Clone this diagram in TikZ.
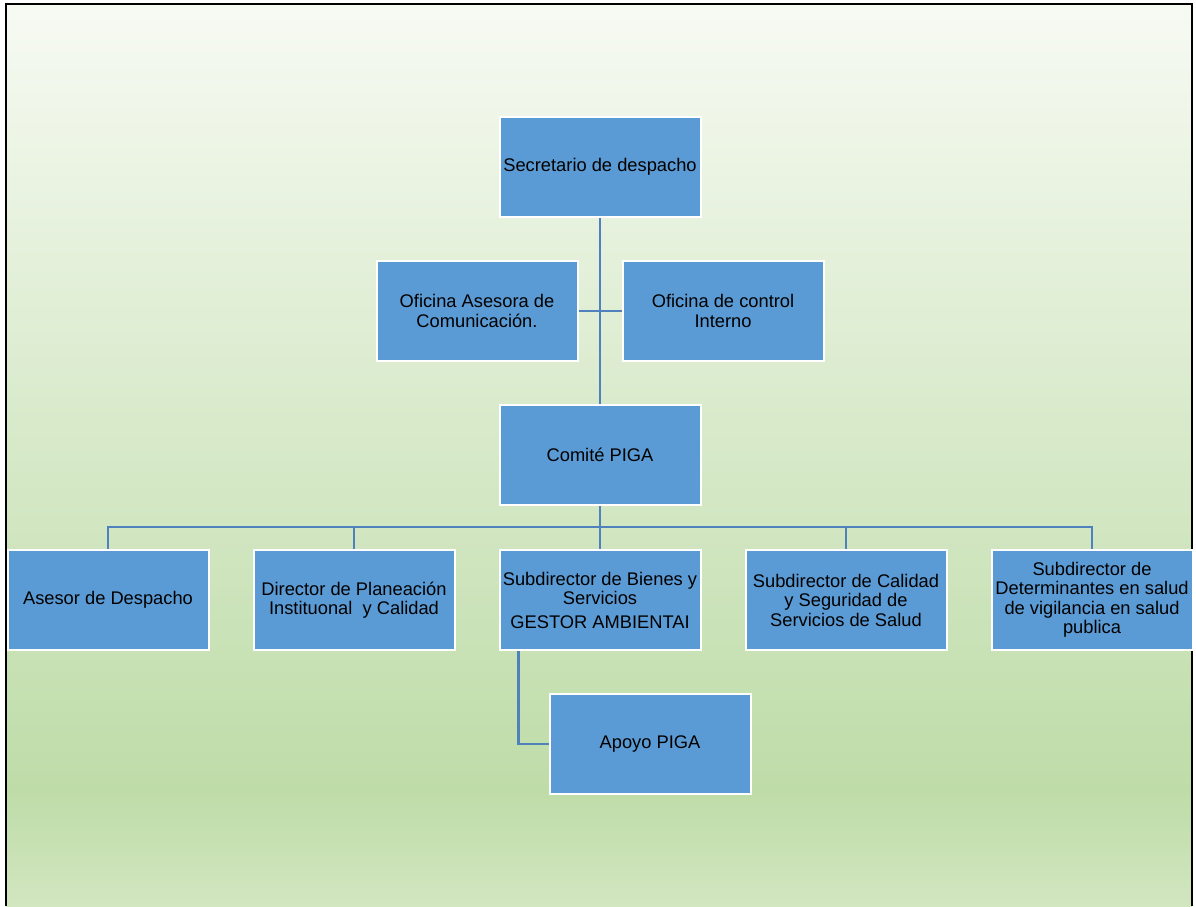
\documentclass[tikz,border=0pt]{standalone}
\usepackage{fontspec}
\setmainfont{Liberation Sans}
\usepackage{tikz}
\definecolor{boxblue}{HTML}{5B9BD5}
\definecolor{lineblue}{HTML}{4F81BD}
\definecolor{bgtop}{HTML}{F7FAF3}
\definecolor{bgmid}{HTML}{BEDCA8}
\definecolor{bgbot}{HTML}{D2E6C0}
\tikzstyle{node_box} = [rectangle, draw=white, line width=2pt, fill=boxblue, minimum width=201pt, minimum height=100pt, inner sep=2pt, align=center, font=\fontsize{18.3}{19.5}\selectfont]
\tikzstyle{edge_line} = [draw=lineblue, line width=2.2pt]

\begin{document}
\begin{tikzpicture}[x=1pt,y=-1pt]
		\useasboundingbox (0,0) rectangle (1196,906);
		\shade[top color=bgtop, bottom color=bgmid] (6,4) rectangle (1192,790);
		\shade[top color=bgmid, bottom color=bgbot] (6,790) rectangle (1192,906);
		\draw[black, line width=2pt] (6,906) -- (6,4) -- (1192,4) -- (1192,906);
		
		\node (sec) at (600,167) [node_box] {Secretario de despacho};
		\node (ofiA) at (477,311) [node_box] {Oficina Asesora de\\Comunicación.};
		\node (ofiC) at (723,311) [node_box] {Oficina de control\\Interno};
		\node (comite) at (600,455) [node_box] {Comité PIGA};
		\node (asesor) at (108,600) [node_box] {Asesor de Despacho};
		\node (director) at (354,600) [node_box] {Director de Planeación\\Instituonal \ y Calidad};
		\node (bienes) at (600,600) [node_box] {Subdirector de Bienes y\\Servicios\\[4pt]GESTOR AMBIENTAI};
		\node (calidad) at (846,600) [node_box] {Subdirector de Calidad\\y Seguridad de\\Servicios de Salud};
		\node (determ) at (1092,600) [node_box] {Subdirector de\\Determinantes en salud\\de vigilancia en salud\\publica};
		\node (apoyo) at (650,744) [node_box] {Apoyo PIGA};
		\coordinate (bus) at (600,527);
		
		\draw[edge_line] (sec) -- (comite);
		\draw[edge_line] (ofiA) -- (ofiC);
		\draw[edge_line] (comite) -- (bienes);
		\foreach \n in {asesor,director,calidad,determ}
			\draw[edge_line] (\n.north) |- (bus);
		\draw[edge_line] ([xshift=20pt]bienes.south west) |- (apoyo.west);
		\end{tikzpicture}
\end{document}
